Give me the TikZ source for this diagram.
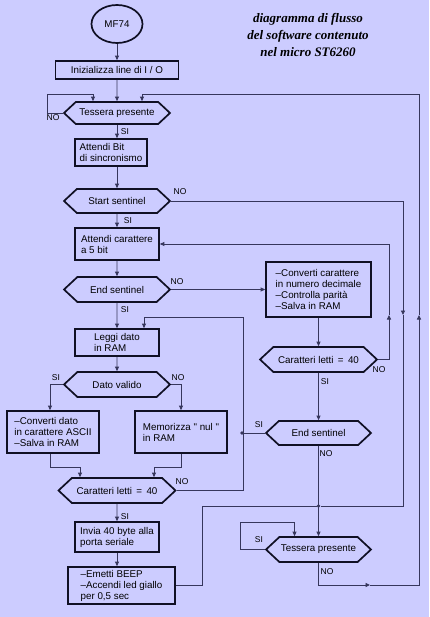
\documentclass[tikz,border=0pt]{standalone}
\usepackage{fontspec}
\setmainfont{Liberation Sans}
\newfontfamily\titlefont{Liberation Serif}
\definecolor{fcback}{HTML}{CCCCFF}
\definecolor{fcline}{HTML}{101024}
\definecolor{fcwire}{HTML}{36365C}
\usetikzlibrary{arrows.meta,shapes.geometric,shapes.symbols}
\tikzset{
  proc/.style={draw=fcline, line width=1.7pt, inner sep=2pt, align=left},
  decis/.style={draw=fcline, line width=1.7pt, signal, signal to=east and west, signal pointer angle=86, minimum height=24pt, inner sep=1pt},
  wire/.style={draw=fcwire, line width=0.9pt},
  arr/.style={wire, -{Triangle[length=4.5pt,width=4pt]}},
  lbl/.style={font=\fontsize{8.5}{9}\selectfont, inner sep=0pt},
  jdot/.style={circle, fill=fcwire, inner sep=0pt, minimum size=3.6pt}
}
\begin{document}
\begin{tikzpicture}[x=1pt, y=-1pt, font=\fontsize{9.8}{11}\selectfont]
\useasboundingbox[fill=fcback] (0,0) rectangle (429,617);
% titolo
\node[font=\titlefont\bfseries\itshape\fontsize{13}{17}\selectfont, align=center] (title) at (308,35)
  {diagramma di flusso\\del software contenuto\\nel micro ST6260};
% colonna principale
\node[ellipse, draw=fcline, line width=1.7pt, minimum width=51pt, minimum height=38pt] (start) at (117,24) {MF74};
\node[proc, minimum width=123pt, minimum height=18pt] (init) at (117,70) {Inizializza line di I / O};
\node[decis, minimum width=106pt, minimum height=22pt] (tess1) at (117,113) {Tessera presente};
\node[proc, minimum width=72pt, minimum height=27pt] (bit) at (111,152.5) {Attendi Bit\\ di sincronismo};
\node[decis, minimum width=106pt] (startS) at (117,201) {Start sentinel};
\node[proc, minimum width=84pt, minimum height=32pt] (car5) at (117,244) {Attendi carattere\\a 5 bit};
\node[decis, minimum width=106pt, minimum height=25pt] (endS1) at (117,289.5) {End sentinel};
\node[proc, minimum width=84pt, minimum height=27pt] (leggi) at (117,342.5) {Leggi dato\\in RAM};
\node[decis, minimum width=106pt, minimum height=25pt] (valido) at (117,384.5) {Dato valido};
\node[proc, minimum width=92pt, minimum height=42pt] (convd) at (53,432) {\textendash Converti dato\\in carattere ASCII\\\textendash Salva in RAM};
\node[proc, minimum width=92pt, minimum height=42pt] (memo) at (181,432) {Memorizza \textquotedbl\ nul \textquotedbl\\in RAM};
\node[decis, minimum width=117pt, minimum height=25pt] (car40a) at (117,490.5) {Caratteri letti \,=\, 40};
\node[proc, minimum width=84pt, minimum height=30pt] (invia) at (117,537) {Invia 40 byte alla\\porta seriale};
\node[proc, minimum width=107pt, minimum height=37pt] (beep) at (121.5,585.5) {\textendash Emetti BEEP\\\textendash Accendi led giallo\\per 0,5 sec};
% colonna destra
\node[proc, minimum width=105pt, minimum height=55pt] (convc) at (318.5,289.5) {\textendash Converti carattere\\in numero decimale\\\textendash Controlla parit\`a\\\textendash Salva in RAM};
\node[decis, minimum width=117pt, minimum height=25pt] (car40b) at (318.5,359.5) {Caratteri letti \,=\, 40};
\node[decis, minimum width=105pt] (endS2) at (318.5,433) {End sentinel};
\node[decis, minimum width=105pt, minimum height=25pt] (tess2) at (318.5,549.5) {Tessera presente};
% punti di giunzione e frecce intermedie
\node[jdot] (jn) at (318.5,506) {};
\node[jdot] (kn) at (242,433) {};
\coordinate (s1) at (403,315);
\coordinate (c1) at (389,315);
\coordinate (r1) at (370,585);
\coordinate (r2) at (419,315);
\coordinate (r3) at (419,94);
% collegamenti
\draw[arr] (start) -- (init);
\draw[arr] (init) -- (tess1);
\draw[arr] (tess1.west) -- ++(-15,0) -- ++(0,-19) -| ([xshift=-24pt]tess1.north);
\draw[arr] (tess1.south) -- (tess1.south |- bit.north);
\draw[arr] (bit.south -| startS.north) -- (startS.north);
\draw[arr] (startS.east) -| (s1);
\draw[wire] (s1) |- (jn);
\draw[arr] (startS) -- (car5);
\draw[arr] (car5) -- (endS1);
\draw[arr] (endS1) -- (convc);
\draw[arr] (convc) -- (car40b);
\draw[arr] (car40b.east) -| (c1);
\draw[arr] (c1) |- (car5.east);
\draw[arr] (car40b) -- (endS2);
\draw[wire] (endS2.west) -- (kn);
\draw[arr] (endS1) -- (leggi);
\draw[arr] (car40a.east) -- ++(66.5,0) |- (144,317) -- ([xshift=27pt]leggi.north);
\draw[arr] (leggi) -- (valido);
\draw[arr] (valido.west) -| ([xshift=-3pt]convd.north);
\draw[arr] (valido.east) -| (memo.north);
\draw[arr] ([xshift=-3pt]convd.south) -- ++(0,14) -| ([xshift=-37pt]car40a.north);
\draw[arr] (memo.south) -- ++(0,14) -| ([xshift=37pt]car40a.north);
\draw[arr] (car40a) -- (invia);
\draw[arr] (invia.south) -- (invia.south |- beep.north);
\draw[wire] (beep.east) -- ++(27,0) |- (jn);
\draw[arr] (endS2) -- (tess2);
\draw[arr] (tess2.west) -- ++(-24,0) -- ++(0,-27) -| ([xshift=-24pt]tess2.north);
\draw[arr] (tess2.south) |- (r1);
\draw[arr] (r1) -| (r2);
\draw[arr] (r2) -- (r3) -| ([xshift=25pt]tess1.north);
% etichette SI / NO
\node[lbl] (l1) at (53,118) {NO};
\node[lbl] (l2) at (125,132) {SI};
\node[lbl] (l3) at (180,192) {NO};
\node[lbl] (l4) at (128,221) {SI};
\node[lbl] (l5) at (177,282) {NO};
\node[lbl] (l6) at (125,310) {SI};
\node[lbl] (l7) at (56,378) {SI};
\node[lbl] (l8) at (178,378) {NO};
\node[lbl] (l9) at (182,482) {NO};
\node[lbl] (l10) at (125,517) {SI};
\node[lbl] (l11) at (379,370) {NO};
\node[lbl] (l12) at (325,382) {SI};
\node[lbl] (l13) at (259,425) {SI};
\node[lbl] (l14) at (326,454) {NO};
\node[lbl] (l15) at (259,540) {SI};
\node[lbl] (l16) at (327,572) {NO};
\end{tikzpicture}
\end{document}
